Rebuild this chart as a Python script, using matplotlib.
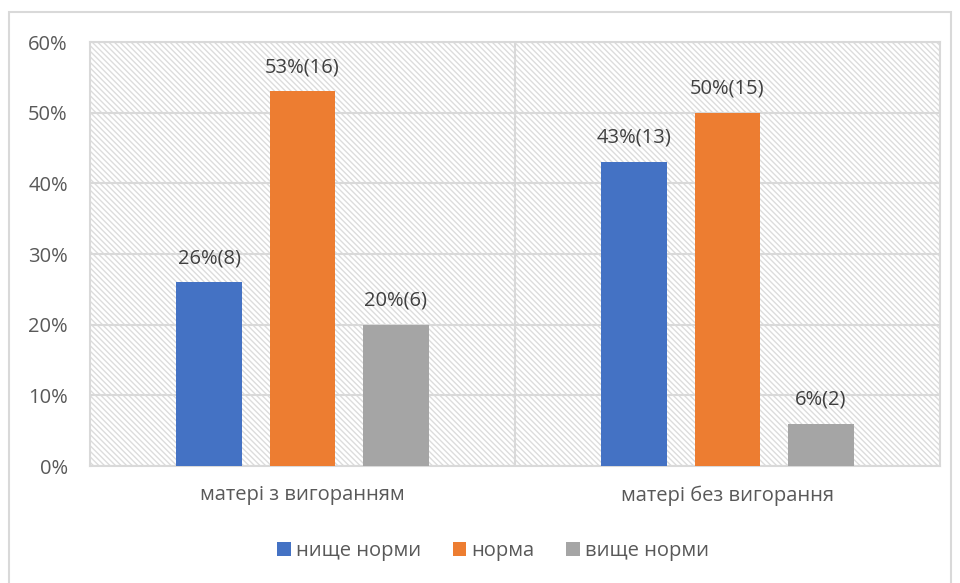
import matplotlib.pyplot as plt
import matplotlib.patches as mpatches
import numpy as np

categories = ['матері з вигоранням', 'матері без вигорання']
series = ['нище норми', 'норма', 'вище норми']
values = [[26, 43], [53, 50], [20, 6]]
counts = [[8, 13], [16, 15], [6, 2]]
colors = ['#4472c4', '#ed7d31', '#a5a5a5']

plt.rcParams['font.family'] = ['Open Sans', 'DejaVu Sans']
plt.rcParams['hatch.color'] = '#dcdcdc'
plt.rcParams['hatch.linewidth'] = 1.0

fig = plt.figure(figsize=(9.6, 5.83), dpi=100)
ax = fig.add_axes([90 / 960, 1 - 466 / 583, 850 / 960, 424 / 583])

# hatched background of the plot area
bg = mpatches.Rectangle((0, 0), 1, 1, transform=ax.transAxes, facecolor='white',
                        edgecolor='#dcdcdc', hatch='\\\\\\\\\\\\', linewidth=0, zorder=0)
ax.add_patch(bg)

x = np.arange(len(categories))
width = 0.155
step = 0.219
fs = 14.5
for i, name in enumerate(series):
    pos = x + (i - 1) * step
    ax.bar(pos, values[i], width, color=colors[i], label=name, zorder=3)
    for p, v, c in zip(pos, values[i], counts[i]):
        ax.text(p, v + 2.0, '%d%%(%d)' % (v, c), ha='center', va='bottom',
                fontsize=fs, color='#404040', zorder=4)

ax.set_xlim(-0.5, 1.5)
ax.set_ylim(0, 60)
ax.set_yticks(range(0, 61, 10))
ax.set_yticklabels(['%d%%' % t for t in range(0, 61, 10)])
ax.yaxis.grid(True, color='#d9d9d9', linewidth=1.5, zorder=1)
ax.axvline(0.5, color='#d9d9d9', linewidth=1.5, zorder=1)
ax.set_xticks(x)
ax.set_xticklabels(categories)
ax.tick_params(axis='both', length=0, labelsize=fs, labelcolor='#595959')
ax.tick_params(axis='y', pad=16)
ax.tick_params(axis='x', pad=14)
for s in ax.spines.values():
    s.set_color('#d9d9d9')
    s.set_linewidth(1.5)
ax.set_axisbelow(True)

leg = fig.legend(loc='center', bbox_to_anchor=(493 / 960, 1 - 551 / 583), ncol=3,
                 frameon=False, fontsize=fs, handlelength=0.65, handleheight=0.65,
                 handletextpad=0.25, columnspacing=1.6)
for t in leg.get_texts():
    t.set_color('#595959')

# outer chart border
border = mpatches.Rectangle((9 / 960, -0.01), 942 / 960, 1 - 12 / 583 + 0.01,
                            transform=fig.transFigure, fill=False,
                            edgecolor='#d9d9d9', linewidth=1.5)
fig.patches.append(border)

fig.savefig('out.png', dpi=100)
